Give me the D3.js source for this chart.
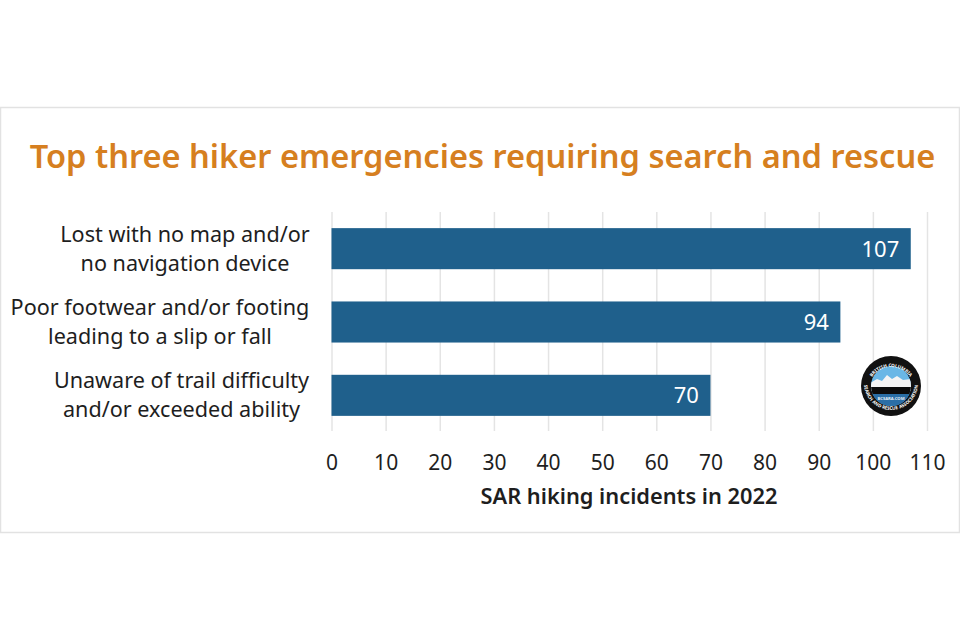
<!DOCTYPE html>
<html><head><meta charset="utf-8">
<script src="https://cdn.jsdelivr.net/npm/d3@7"></script>
<style>html,body{margin:0;padding:0;background:#fff}svg{display:block}text{font-family:"Noto Sans",sans-serif}</style>
</head><body><svg id="c" width="960" height="640"></svg>
<script>
const categories = [["Lost with no map and/or","no navigation device"],["Poor footwear and/or footing","leading to a slip or fall"],["Unaware of trail difficulty","and/or exceeded ability"]];
const values = [107, 94, 70];
const xTicks = [0,10,20,30,40,50,60,70,80,90,100,110];
const title = "Top three hiker emergencies requiring search and rescue";
const xLabel = "SAR hiking incidents in 2022";

const svg = d3.select("#c");
svg.append("rect").attr("x",0.5).attr("y",107.5).attr("width",959).attr("height",425).attr("fill","#fff").attr("stroke","#e2e2e2").attr("stroke-width",1.5);
svg.append("text").attr("x",482.5).attr("y",168).attr("text-anchor","middle").attr("font-size",32.6).attr("font-weight",600).attr("fill","#d67f20").text(title);

const x = d3.scaleLinear().domain([0,110]).range([331.5,927]);
const y = d3.scaleBand().domain(d3.range(categories.length)).range([212,432]).paddingInner(0.44).paddingOuter(0.22);

const ax = svg.append("g").attr("transform","translate(0,431)")
  .call(d3.axisBottom(x).tickValues(xTicks).tickSize(219).tickPadding(0));
ax.select(".domain").remove();
ax.selectAll("line").attr("y1",0).attr("y2",-219).attr("stroke","#e4e4e4").attr("stroke-width",1.5);
ax.selectAll("text").attr("y",39).attr("dy",0).attr("font-size",21).attr("fill","#1e1e1e").style("font-family",'"Noto Sans",sans-serif');

svg.selectAll("rect.bar").data(values).join("rect").attr("class","bar")
  .attr("x",x(0)).attr("y",(d,i)=>y(i)).attr("width",d=>x(d)-x(0)).attr("height",y.bandwidth()).attr("fill","#1f608c");
svg.selectAll("text.val").data(values).join("text").attr("class","val")
  .attr("x",d=>x(d)-11.5).attr("y",(d,i)=>y(i)+y.bandwidth()/2+8).attr("text-anchor","end").attr("font-size",22).attr("fill","#fff").text(d=>d);

const lab = svg.selectAll("text.cat").data(categories).join("text").attr("class","cat")
  .attr("text-anchor","middle").attr("font-size",21.6).attr("fill","#1e1e1e");
lab.selectAll("tspan").data((d,i)=>d.map((t,j)=>({t,j,i}))).join("tspan")
  .attr("x",d=>[185,160,181.5][d.i]).attr("y",d=>y(d.i)+y.bandwidth()/2-7+d.j*29).text(d=>d.t);

svg.append("text").attr("x",629).attr("y",504).attr("text-anchor","middle").attr("font-size",21.8).attr("font-weight",600).attr("fill","#1e1e1e").text(xLabel);

// association badge
const b = svg.append("g").attr("transform","translate(891,386)");
b.append("circle").attr("r",30).attr("fill","#111");
b.append("circle").attr("r",20).attr("fill","#6ab7e6");
const defs = svg.append("defs");
defs.append("clipPath").attr("id","bc").append("circle").attr("r",20);
const inner = b.append("g").attr("clip-path","url(#bc)");
inner.append("path").attr("d","M-21 -3L-14 -7L-9 -5L-4 -11L1 -7L6 -10L12 -6L21 -7L21 5L-21 5Z").attr("fill","#f4f4f4");
inner.append("rect").attr("x",-21).attr("y",1).attr("width",42).attr("height",7).attr("fill","#0c0c0c");
inner.append("rect").attr("x",-21).attr("y",8).attr("width",42).attr("height",13).attr("fill","#2a6ea6");
b.append("text").attr("y",14).attr("text-anchor","middle").attr("font-size",4.2).attr("font-weight",700).attr("fill","#e8f0f6").text("BCSARA.COM");
defs.append("path").attr("id","arcT").attr("d","M-23 4A23 23 0 0 1 23 4");
defs.append("path").attr("id","arcB").attr("d","M-27 -3A27 27 0 0 0 27 -3");
b.append("text").attr("font-size",4.6).attr("font-weight",700).attr("fill","#fff").attr("text-anchor","middle")
  .append("textPath").attr("href","#arcT").attr("startOffset","50%").text("BRITISH COLUMBIA");
b.append("text").attr("font-size",4.6).attr("font-weight",700).attr("fill","#fff").attr("text-anchor","middle")
  .append("textPath").attr("href","#arcB").attr("startOffset","50%").text("SEARCH AND RESCUE ASSOCIATION");
</script></body></html>
